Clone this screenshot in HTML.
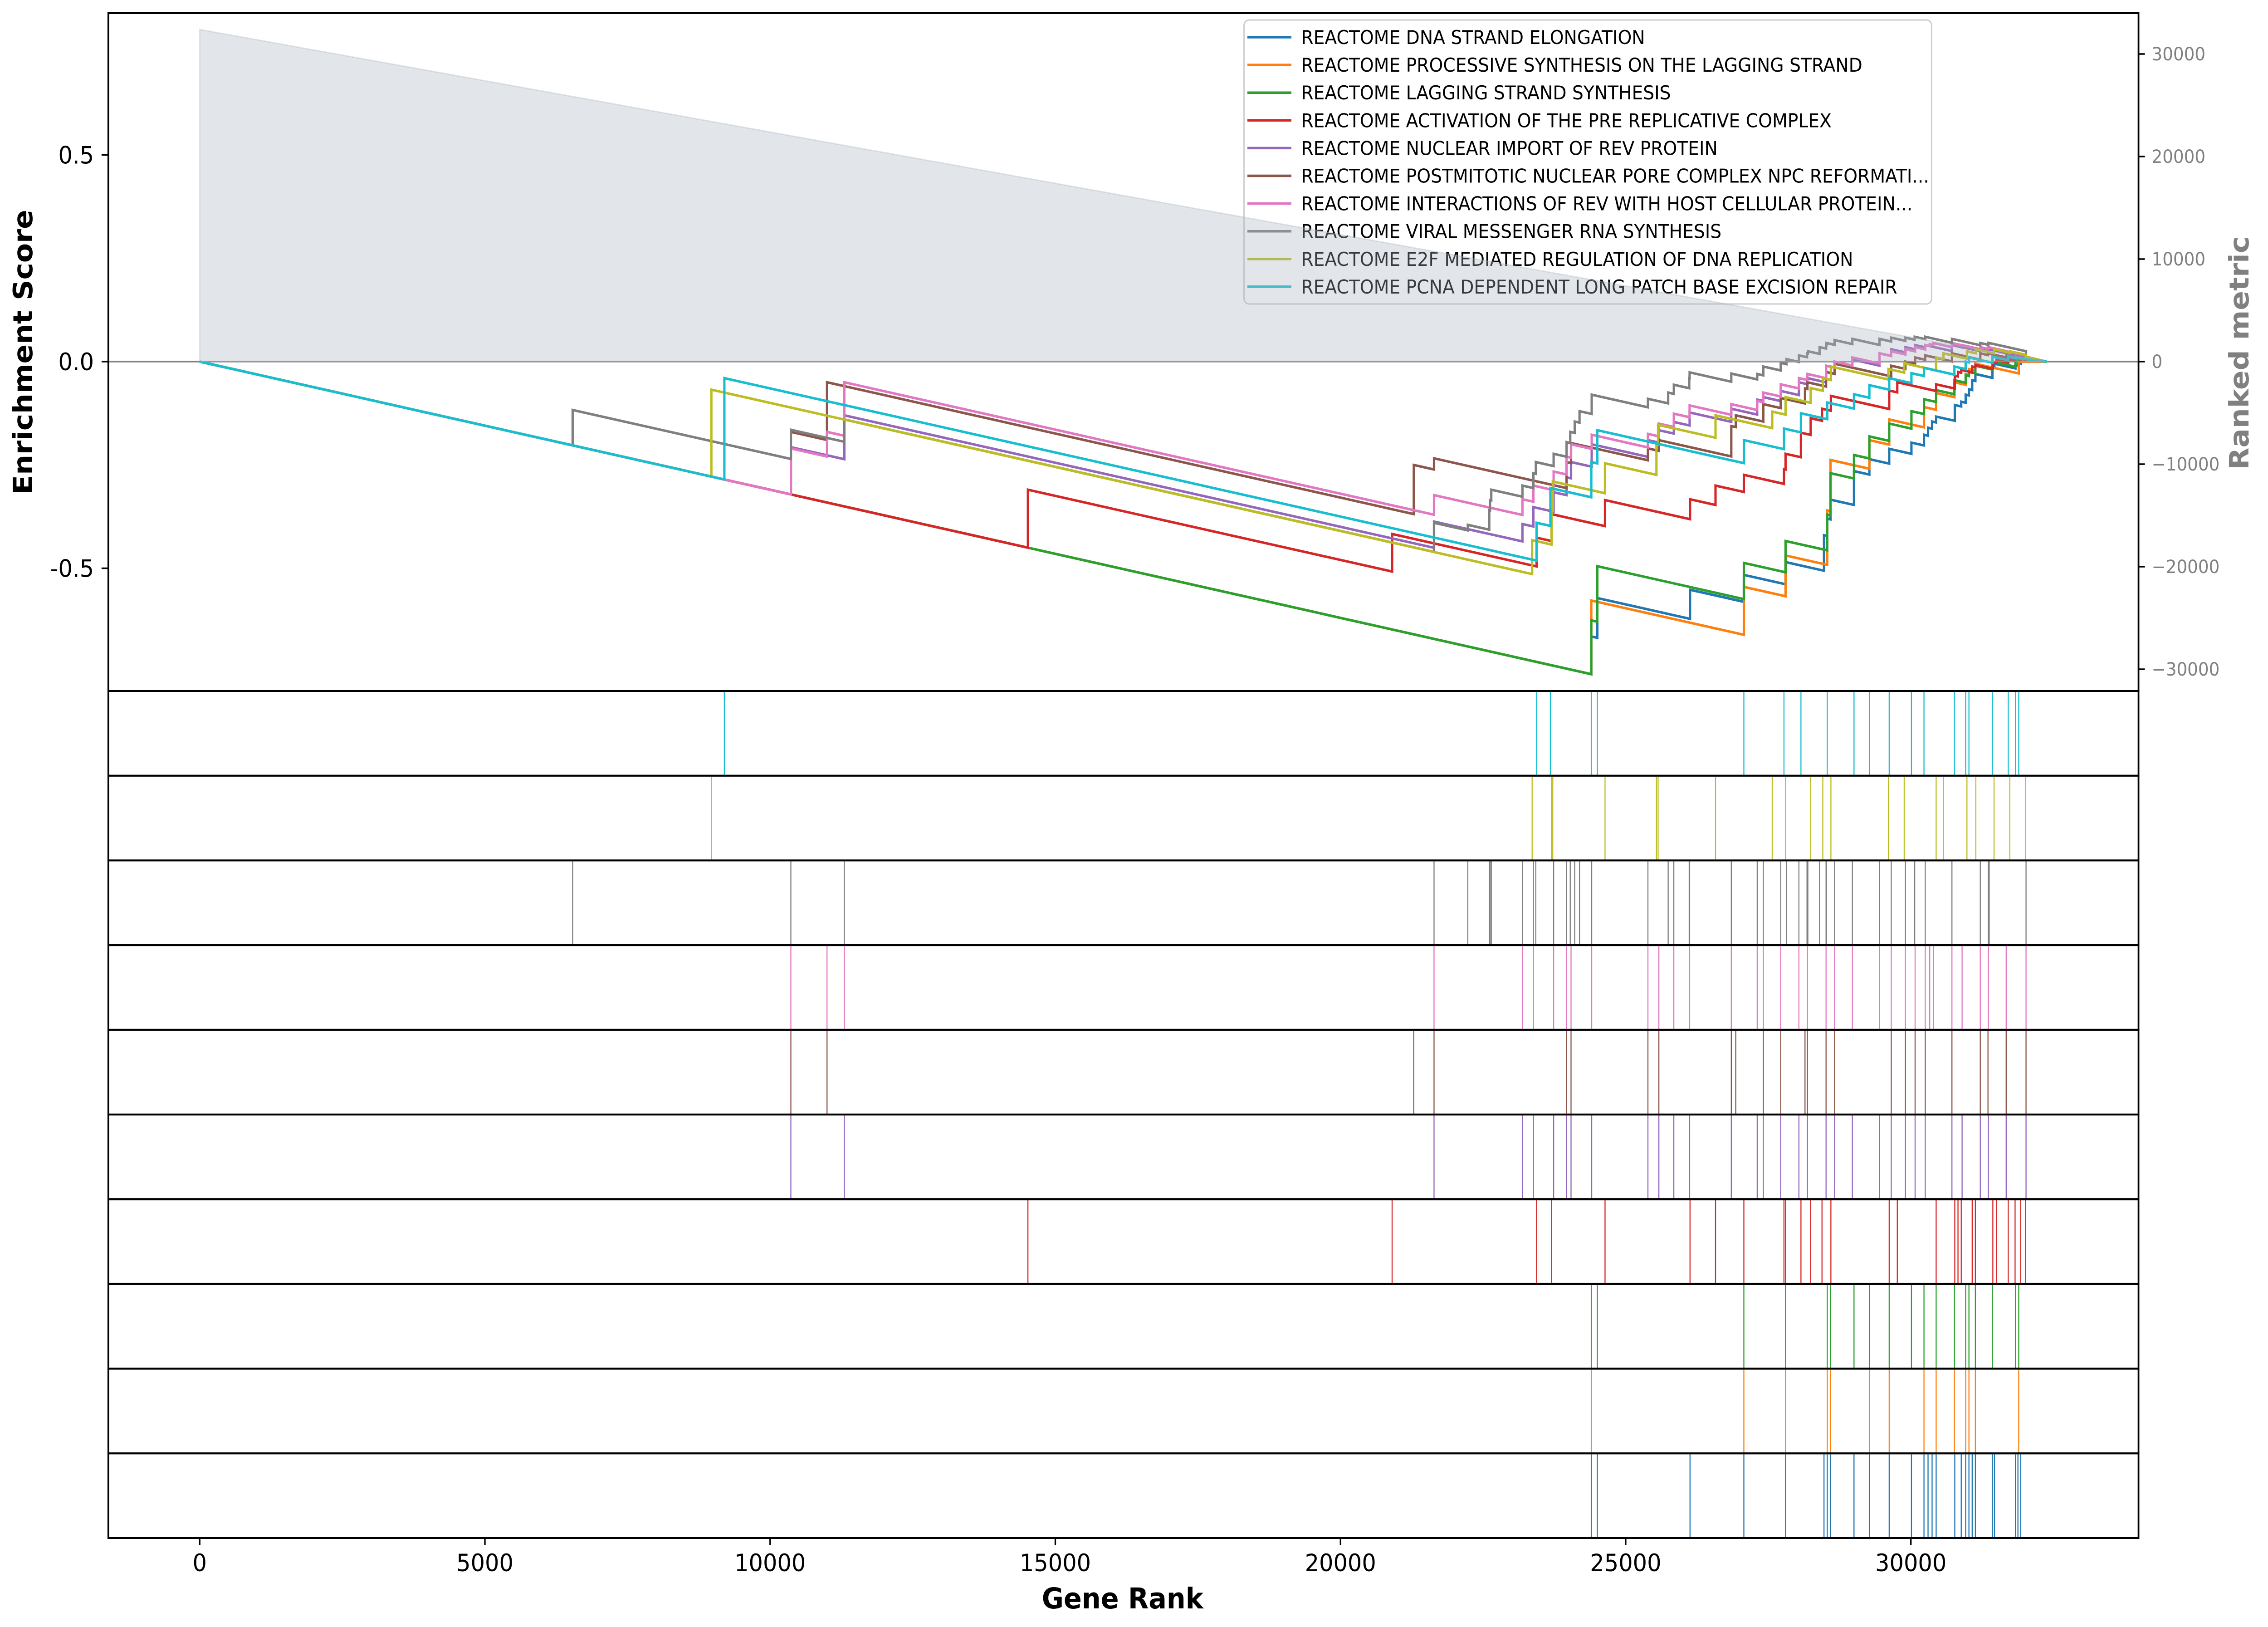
<!DOCTYPE html>
<html><head><meta charset="utf-8">
<style>
html,body{margin:0;padding:0;background:#fff;overflow:hidden;width:100%;height:100%;}
svg{display:block;font-family:"DejaVu Sans","Liberation Sans",sans-serif;width:100vw;height:100vh;}
</style></head>
<body>
<svg id="chart" viewBox="0 0 5360 3586" preserveAspectRatio="none" xmlns="http://www.w3.org/2000/svg">
<rect x="0" y="0" width="5360" height="3586" fill="#fff"/>
<g id="curves"></g>
<g id="legend"></g>
<g id="fillg"></g>
<g id="rugs"></g>
<g id="axes"></g>
</svg>
<script>
// ---- data ----
const seriesNames = [
 "REACTOME DNA STRAND ELONGATION",
 "REACTOME PROCESSIVE SYNTHESIS ON THE LAGGING STRAND",
 "REACTOME LAGGING STRAND SYNTHESIS",
 "REACTOME ACTIVATION OF THE PRE REPLICATIVE COMPLEX",
 "REACTOME NUCLEAR IMPORT OF REV PROTEIN",
 "REACTOME POSTMITOTIC NUCLEAR PORE COMPLEX NPC REFORMATI...",
 "REACTOME INTERACTIONS OF REV WITH HOST CELLULAR PROTEIN...",
 "REACTOME VIRAL MESSENGER RNA SYNTHESIS",
 "REACTOME E2F MEDIATED REGULATION OF DNA REPLICATION",
 "REACTOME PCNA DEPENDENT LONG PATCH BASE EXCISION REPAIR"];
const seriesColors = ["#1f77b4","#ff7f0e","#2ca02c","#d62728","#9467bd","#8c564b","#e377c2","#7f7f7f","#bcbd22","#17becf"];
const missStep = 3.1e-5;
const geneCount = 32380;
const metricStart = 32390;
const xTicks = [0,5000,10000,15000,20000,25000,30000];
const esTicks = [0.5,0.0,-0.5];
const esTickLabels = ["0.5","0.0","-0.5"];
const metricTicks = [30000,20000,10000,0,-10000,-20000,-30000];

const hitsBlue = [24397,24503,26128,27072,27803,28477,28534,28591,29003,29272,29620,30010,30230,30301,30372,30443,30770,30883,30961,31018,31075,31131,31430,31465,31834,31877,31926];
const esBlue = [-0.665,-0.572,-0.552,-0.516,-0.485,-0.42,-0.38,-0.334,-0.265,-0.236,-0.211,-0.196,-0.177,-0.16,-0.145,-0.133,-0.105,-0.097,-0.08,-0.067,-0.045,-0.03,-0.012,-0.005,-0.008,-0.004,0.0];
const hitsOrange = [24397,27072,27803,28534,28591,29272,29620,30230,30443,30763,30961,31018,31131,31891];
const esOrange = [-0.578,-0.545,-0.469,-0.36,-0.238,-0.19,-0.14,-0.11,-0.076,-0.05,-0.03,-0.018,-0.005,0.0];
const hitsGreen = [24397,24503,27072,27803,28534,28591,29003,29272,29620,30010,30230,30443,30763,30961,31018,31131,31430,31834,31891];
const esGreen = [-0.626,-0.495,-0.487,-0.434,-0.37,-0.27,-0.226,-0.181,-0.15,-0.12,-0.091,-0.069,-0.045,-0.033,-0.025,-0.01,0.0,0.005,0.01];
const hitsRed = [14520,20905,23438,23701,24638,26128,26575,27072,27775,27803,28073,28243,28442,28598,29620,29762,30443,30770,30826,30883,31075,31131,31437,31501,31707,31827,31926,32012];
const esRed = [-0.31,-0.417,-0.426,-0.369,-0.335,-0.333,-0.30,-0.274,-0.26,-0.223,-0.172,-0.137,-0.114,-0.083,-0.07,-0.05,-0.055,-0.034,-0.025,-0.02,-0.012,-0.008,0.0,0.004,0.006,0.008,0.01,0.01];
const hitsPurple = [10364,11302,21640,23190,23382,23737,23964,24042,24404,25390,25582,25844,26121,26852,27306,27413,27718,28037,28186,28513,28662,28974,29450,29656,29904,30074,30252,30720,30898,31217,31359,31671,32019];
const esPurple = [-0.207,-0.13,-0.387,-0.393,-0.352,-0.316,-0.28,-0.243,-0.20,-0.19,-0.166,-0.146,-0.123,-0.114,-0.092,-0.086,-0.071,-0.05,-0.04,-0.01,0.0,0.005,0.02,0.03,0.035,0.04,0.04,0.04,0.035,0.03,0.03,0.02,0.01];
const hitsBrown = [10364,10998,21285,21640,23964,24042,25390,25582,26852,26930,27413,27718,28144,28186,28513,28662,29656,29904,30074,30252,30720,31217,31352,31671,32019];
const esBrown = [-0.17,-0.05,-0.25,-0.234,-0.243,-0.197,-0.21,-0.19,-0.156,-0.13,-0.103,-0.088,-0.065,-0.05,-0.025,-0.005,-0.01,0.0,0.01,0.015,0.02,0.02,0.02,0.015,0.01];
const hitsPink = [10364,10998,11302,21640,23190,23382,23737,23964,24042,24404,25390,25582,25844,26121,26852,27306,27413,27718,28037,28186,28513,28662,28974,29450,29656,29904,30074,30252,30330,30394,30720,30898,31217,31359,31671,32019];
const esPink = [-0.21,-0.17,-0.05,-0.323,-0.333,-0.30,-0.266,-0.23,-0.20,-0.177,-0.175,-0.15,-0.126,-0.106,-0.103,-0.095,-0.075,-0.055,-0.04,-0.03,-0.01,0.0,0.01,0.02,0.025,0.03,0.035,0.04,0.042,0.045,0.045,0.04,0.035,0.035,0.025,0.012];
const hitsGray = [6538,10364,11302,21640,22232,22608,22622,22644,23190,23382,23424,23737,23964,24028,24106,24191,24404,25390,25745,25844,26114,26121,26852,27306,27413,27718,27818,28037,28179,28194,28399,28513,28520,28662,28974,29450,29656,29904,30067,30252,30720,31217,31359,31373,32019];
const esGray = [-0.117,-0.165,-0.14,-0.39,-0.395,-0.36,-0.335,-0.31,-0.30,-0.27,-0.243,-0.223,-0.195,-0.17,-0.145,-0.12,-0.08,-0.09,-0.075,-0.056,-0.04,-0.026,-0.029,-0.03,-0.012,-0.003,0.006,0.015,0.02,0.025,0.035,0.04,0.045,0.052,0.055,0.055,0.058,0.058,0.06,0.06,0.055,0.045,0.045,0.045,0.01];
const hitsOlive = [8970,23360,23701,23722,24638,25539,25568,26575,27569,27803,28243,28456,28598,29606,29883,30443,30571,30983,31139,31458,31735,32012];
const esOlive = [-0.068,-0.432,-0.36,-0.29,-0.246,-0.2,-0.153,-0.13,-0.121,-0.086,-0.064,-0.04,-0.012,-0.018,-0.004,0.01,0.02,0.025,0.03,0.03,0.025,0.012];
const hitsCyan = [9198,23438,23680,24397,24503,27072,27775,28073,28534,29003,29272,29620,30010,30230,30763,30961,31018,31430,31707,31834,31891];
const esCyan = [-0.04,-0.39,-0.306,-0.243,-0.166,-0.19,-0.162,-0.125,-0.099,-0.079,-0.057,-0.04,-0.028,-0.015,-0.012,0.0,0.01,0.012,0.012,0.01,0.008];

const allHits = [hitsBlue,hitsOrange,hitsGreen,hitsRed,hitsPurple,hitsBrown,hitsPink,hitsGray,hitsOlive,hitsCyan];
const allES = [esBlue,esOrange,esGreen,esRed,esPurple,esBrown,esPink,esGray,esOlive,esCyan];

// ---- layout ----
const NS = "http://www.w3.org/2000/svg";
const AX = {left:256, right:5054, top:29, bottom:1523};
const rugTop = 1523, rugBottom = 3390, nRug = 10;
const rugH = (rugBottom - rugTop) / nRug;
function xScale(r){ return 472 + r * (4516 - 472) / 30000; }
function yES(v){ return 797 - v * 911; }
function yMetric(v){ return 797 - v * 678 / 30000; }
function mk(tag, attrs, parent){
  const e = document.createElementNS(NS, tag);
  for (const k in attrs) e.setAttribute(k, attrs[k]);
  parent.appendChild(e); return e;
}
const curvesG = document.getElementById('curves');
const legendG = document.getElementById('legend');
const fillG = document.getElementById('fillg');
const rugsG = document.getElementById('rugs');
const axesG = document.getElementById('axes');

// zero line
const zl = mk('line',{x1:AX.left,x2:AX.right,y1:yES(0),y2:yES(0),stroke:'#808080','stroke-width':3.5},curvesG);



// ES curves
for (let s = 0; s < allHits.length; s++){
  const hits = allHits[s], es = allES[s];
  let pts = [[xScale(0), yES(0)]];
  let prevR = 0, prevV = 0;
  for (let i = 0; i < hits.length; i++){
    const before = prevV - missStep * (hits[i] - prevR);
    pts.push([xScale(hits[i]), yES(before)]);
    pts.push([xScale(hits[i]), yES(es[i])]);
    prevR = hits[i]; prevV = es[i];
  }
  pts.push([xScale(geneCount), yES(0)]);
  const pl = mk('polyline',{points: pts.map(p=>p[0].toFixed(1)+','+p[1].toFixed(1)).join(' '),
    fill:'none', stroke:seriesColors[s], 'stroke-width':5.5, 'stroke-linejoin':'miter'}, curvesG);
  
  
}

// legend
const lb = mk('rect',{x:2940,y:44,width:1625,height:626,rx:12,fill:'#fff','fill-opacity':0.85,stroke:'#cccccc','stroke-width':3},legendG);


for (let s = 0; s < seriesNames.length; s++){
  const y = 82 + s * 61.1;
  const g = mk('g',{},legendG);
  
  
  mk('line',{x1:2948,x2:3052,y1:y,y2:y,stroke:seriesColors[s],'stroke-width':5.5},g);
  const t = mk('text',{x:3075,y:y+15,'font-size':42,fill:'#000'},g);
  t.textContent = seriesNames[s];
}

// ranked metric area (drawn over curves, semi-transparent)
const poly = mk('polygon',{points:[
  [xScale(0),yMetric(metricStart)],[xScale(geneCount),yMetric(0)],[xScale(0),yMetric(0)]
 ].map(p=>p.join(',')).join(' '), fill:'#a8b4c0','fill-opacity':0.33, stroke:'#a8b4c0','stroke-opacity':0.35,'stroke-width':3}, fillG);



// rugs (top to bottom: reverse order)
for (let p = 0; p < nRug; p++){
  const s = nRug - 1 - p;
  const top = rugTop + p * rugH;
  const g = mk('g',{},rugsG);
  
  
  for (const h of allHits[s]){
    const x = xScale(h);
    const ln = mk('line',{x1:x,x2:x,y1:top,y2:top+rugH,stroke:seriesColors[s],'stroke-width':2.5},g);
    
    
  }
  mk('rect',{x:AX.left,y:top,width:AX.right-AX.left,height:rugH,fill:'none',stroke:'#000','stroke-width':4},g);
}

// main axes frame
mk('rect',{x:AX.left,y:AX.top,width:AX.right-AX.left,height:AX.bottom-AX.top,fill:'none',stroke:'#000','stroke-width':4},axesG);

// left ticks
for (let i = 0; i < esTicks.length; i++){
  const y = yES(esTicks[i]);
  mk('line',{x1:AX.left-16,x2:AX.left,y1:y,y2:y,stroke:'#000','stroke-width':3.5},axesG);
  const t = mk('text',{x:222,y:y+19,'font-size':53,'text-anchor':'end',fill:'#000'},axesG);
  
  
  t.textContent = esTickLabels[i];
}
// right ticks
for (const v of metricTicks){
  const y = yMetric(v);
  mk('line',{x1:AX.right,x2:AX.right+15,y1:y,y2:y,stroke:'#000','stroke-width':3.5},axesG);
  const t = mk('text',{x:5085,y:y+14,'font-size':40,fill:'#808080'},axesG);
  
  
  t.textContent = v < 0 ? '\u2212' + Math.abs(v) : String(v);
}
// bottom ticks
for (const v of xTicks){
  const x = xScale(v);
  mk('line',{x1:x,x2:x,y1:rugBottom,y2:rugBottom+15,stroke:'#000','stroke-width':3.5},axesG);
  const t = mk('text',{x:x,y:3463,'font-size':53,'text-anchor':'middle',fill:'#000'},axesG);
  
  
  t.textContent = String(v);
}
// axis titles
const yt = mk('text',{x:0,y:0,'font-size':63,'font-weight':'bold','text-anchor':'middle',fill:'#000',transform:'translate(76,776) rotate(-90)'},axesG);


yt.textContent = 'Enrichment Score';
const xt = mk('text',{x:2653,y:3545,'font-size':63,'font-weight':'bold','text-anchor':'middle',fill:'#000'},axesG);


xt.textContent = 'Gene Rank';
const rt = mk('text',{x:0,y:0,'font-size':63,'font-weight':'bold','text-anchor':'middle',fill:'#808080',transform:'translate(5314,778) rotate(-90)'},axesG);


rt.textContent = 'Ranked metric';
</script>
</body></html>
